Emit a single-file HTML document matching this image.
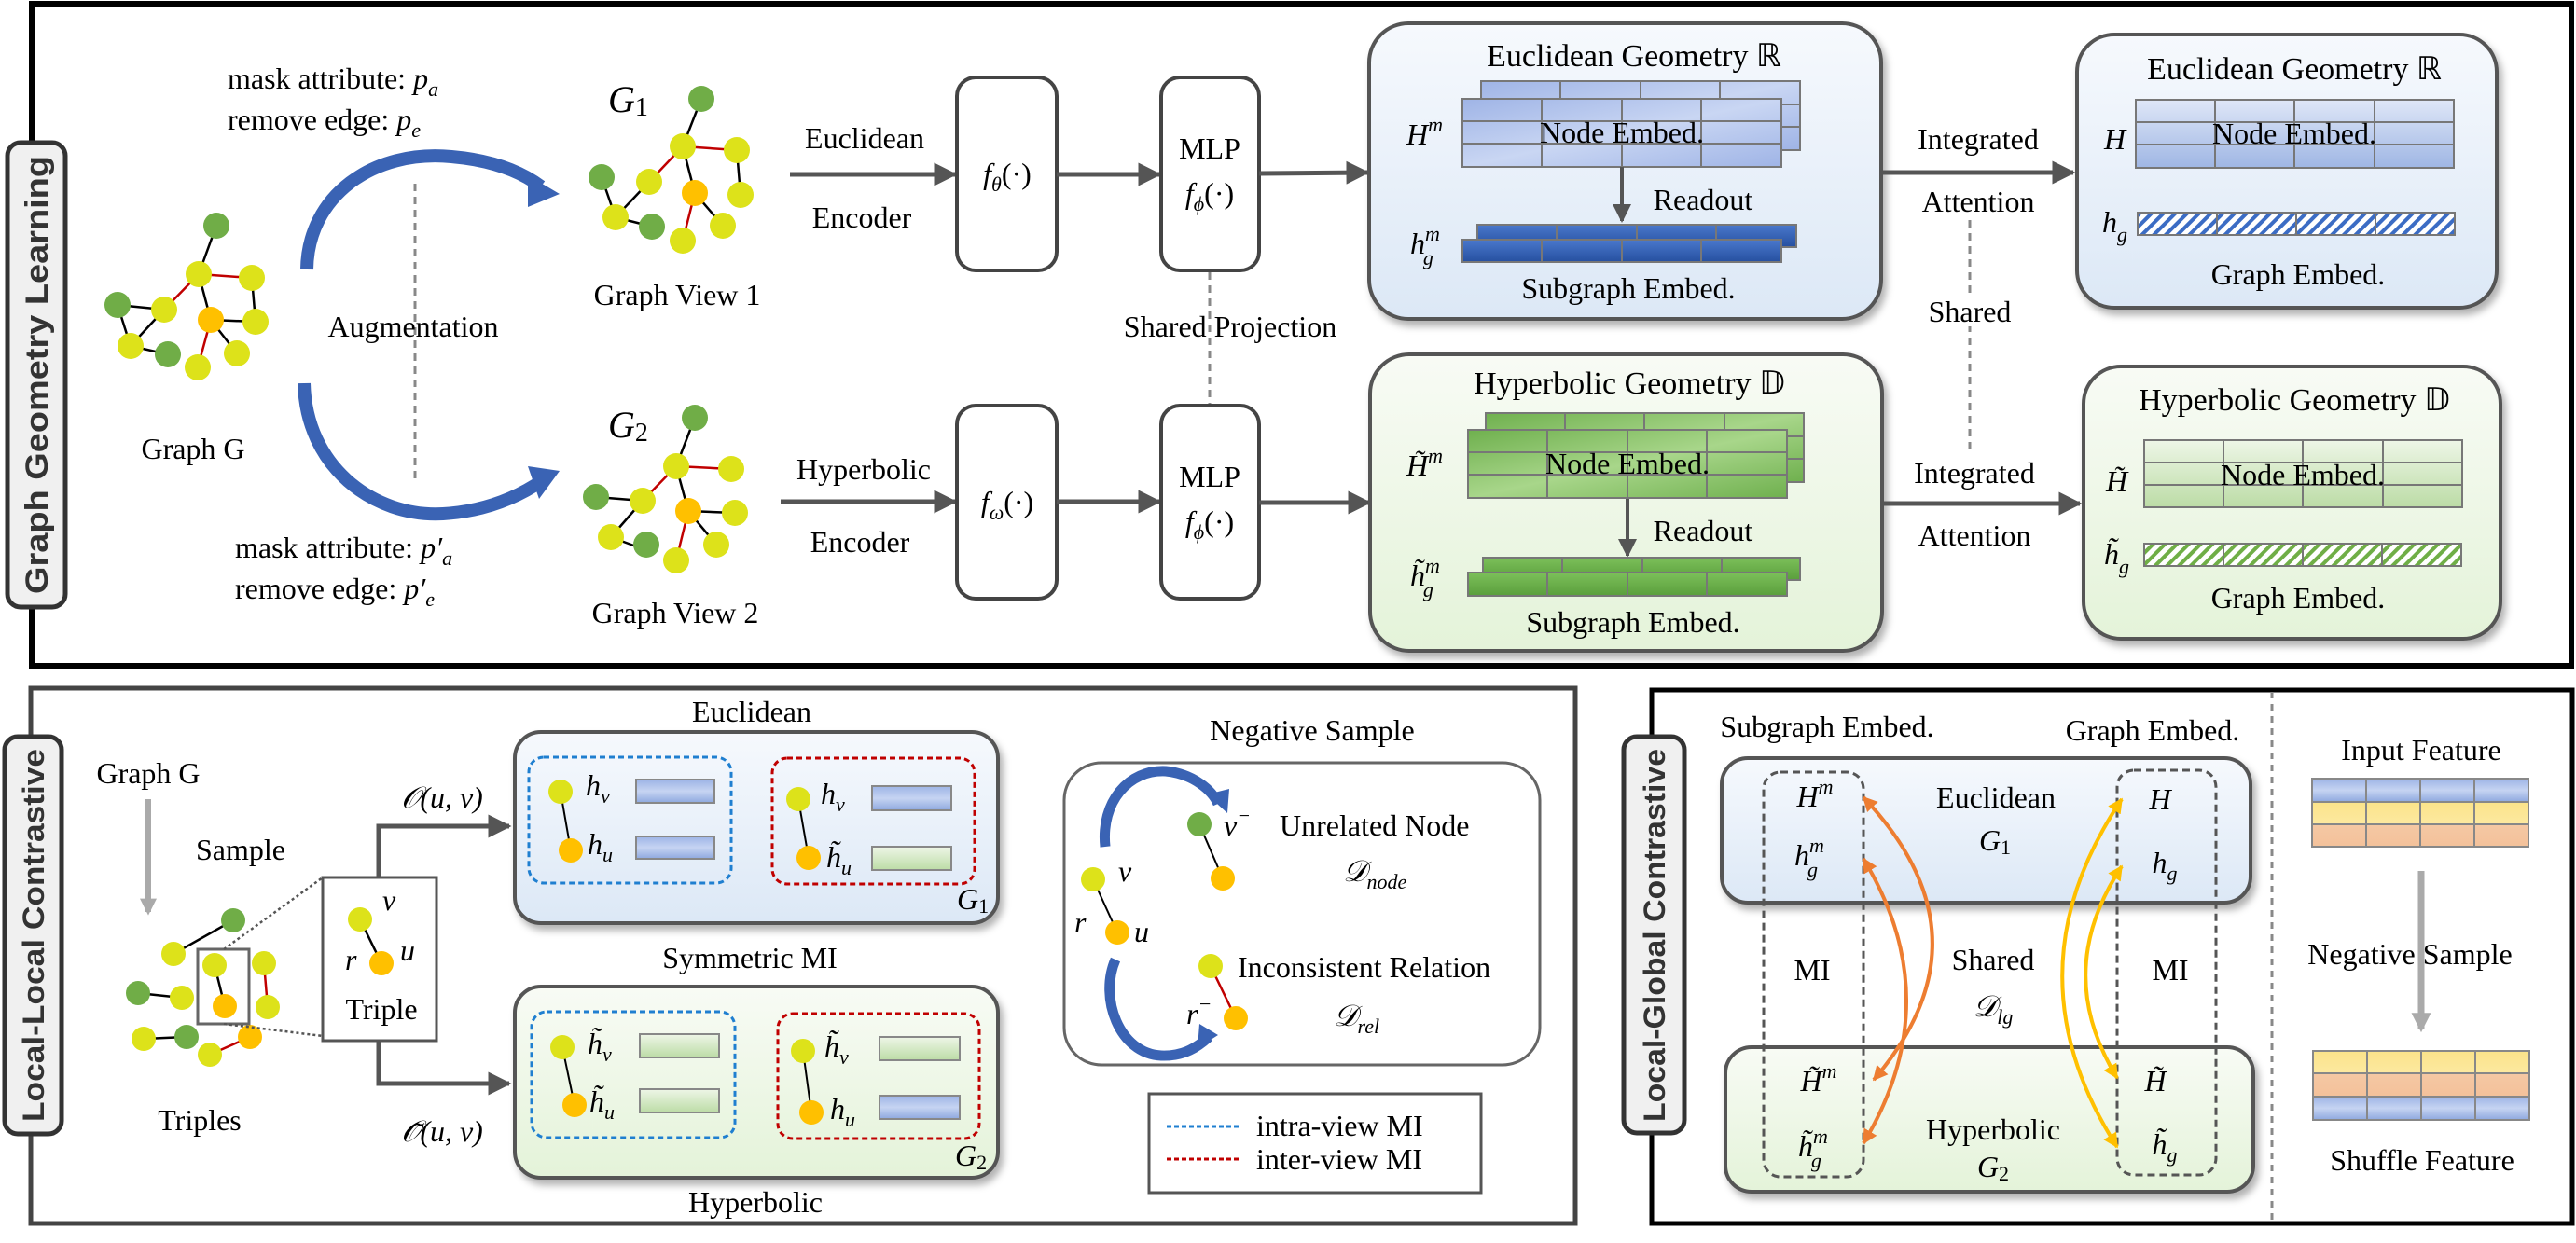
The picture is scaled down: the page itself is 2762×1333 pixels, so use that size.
<!DOCTYPE html>
<html><head><meta charset="utf-8"><style>html,body{margin:0;padding:0;background:#fff}svg{display:block}</style></head><body>
<svg xmlns="http://www.w3.org/2000/svg" width="2762" height="1333" viewBox="0 0 2762 1333" font-family="Liberation Serif, serif" font-size="32" fill="#000">
<defs>
<linearGradient id="gb" x1="0" y1="0" x2="0" y2="1"><stop offset="0" stop-color="#f6f9fd"/><stop offset="1" stop-color="#dce8f6"/></linearGradient>
<linearGradient id="gg" x1="0" y1="0" x2="0" y2="1"><stop offset="0" stop-color="#f8fbf5"/><stop offset="1" stop-color="#e4f3d9"/></linearGradient>
<linearGradient id="cb" x1="0" y1="0" x2="1" y2="1"><stop offset="0" stop-color="#9fb4e6"/><stop offset=".5" stop-color="#c9d6f3"/><stop offset="1" stop-color="#9fb4e6"/></linearGradient>
<linearGradient id="cd" x1="0" y1="0" x2="0" y2="1"><stop offset="0" stop-color="#4a78cc"/><stop offset="1" stop-color="#2650a0"/></linearGradient>
<linearGradient id="cg" x1="0" y1="0" x2="1" y2="1"><stop offset="0" stop-color="#6fb04e"/><stop offset=".5" stop-color="#a8d68a"/><stop offset="1" stop-color="#6fb04e"/></linearGradient>
<linearGradient id="cgd" x1="0" y1="0" x2="0" y2="1"><stop offset="0" stop-color="#7cc05a"/><stop offset="1" stop-color="#5a9e3c"/></linearGradient>
<linearGradient id="sb" x1="0" y1="0" x2="0" y2="1"><stop offset="0" stop-color="#dfe7f7"/><stop offset="1" stop-color="#9fb6e4"/></linearGradient>
<linearGradient id="sg" x1="0" y1="0" x2="0" y2="1"><stop offset="0" stop-color="#eef6e7"/><stop offset="1" stop-color="#bcdca6"/></linearGradient>
<linearGradient id="fb" x1="0" y1="0" x2="0" y2="1"><stop offset="0" stop-color="#9db4e6"/><stop offset=".5" stop-color="#c6d4f2"/><stop offset="1" stop-color="#8ea8df"/></linearGradient>
<linearGradient id="fy" x1="0" y1="0" x2="0" y2="1"><stop offset="0" stop-color="#fbe38a"/><stop offset="1" stop-color="#fde9a0"/></linearGradient>
<linearGradient id="fp" x1="0" y1="0" x2="0" y2="1"><stop offset="0" stop-color="#f5c8a4"/><stop offset="1" stop-color="#f3c19a"/></linearGradient>
<pattern id="hb" width="9" height="9" patternUnits="userSpaceOnUse" patternTransform="rotate(45)"><rect width="9" height="9" fill="#fff"/><rect width="4" height="9" fill="#3b6cc4"/></pattern>
<pattern id="hg" width="9" height="9" patternUnits="userSpaceOnUse" patternTransform="rotate(45)"><rect width="9" height="9" fill="#fff"/><rect width="4" height="9" fill="#6fae46"/></pattern>
<filter id="sh" x="-10%" y="-10%" width="125%" height="125%"><feDropShadow dx="4" dy="6" stdDeviation="4" flood-color="#000" flood-opacity=".3"/></filter>
<marker id="ah" viewBox="0 0 10 10" refX="9" refY="5" markerWidth="5" markerHeight="5" orient="auto"><path d="M0,0L10,5L0,10z" fill="#555"/></marker>
<marker id="ao" viewBox="0 0 10 10" refX="9" refY="5" markerWidth="4" markerHeight="4" orient="auto-start-reverse"><path d="M0,0L10,5L0,10z" fill="#ed7d31"/></marker>
<marker id="ay" viewBox="0 0 10 10" refX="9" refY="5" markerWidth="4" markerHeight="4" orient="auto-start-reverse"><path d="M0,0L10,5L0,10z" fill="#ffc000"/></marker>
<marker id="ag" viewBox="0 0 10 10" refX="8" refY="5" markerWidth="3" markerHeight="3" orient="auto"><path d="M0,0L10,5L0,10z" fill="#aaa"/></marker>
</defs>

<!-- ================= TOP PANEL ================= -->
<rect x="34" y="4" width="2723" height="710" fill="none" stroke="#000" stroke-width="6"/>
<rect x="8" y="153" width="62" height="498" rx="14" fill="#f0f0f0" stroke="#333" stroke-width="5"/>
<text transform="translate(51,402) rotate(-90)" text-anchor="middle" font-family="Liberation Sans, sans-serif" font-weight="bold" font-size="34" fill="#333" textLength="470" lengthAdjust="spacingAndGlyphs">Graph Geometry Learning</text>

<!-- Graph G -->
<g stroke-width="2.5">
<line x1="232" y1="242" x2="213" y2="294" stroke="#000"/><line x1="213" y1="294" x2="270" y2="298" stroke="#c00000"/>
<line x1="213" y1="294" x2="176" y2="332" stroke="#c00000"/><line x1="213" y1="294" x2="226" y2="343" stroke="#000"/>
<line x1="270" y1="298" x2="274" y2="345" stroke="#000"/><line x1="126" y1="327" x2="176" y2="332" stroke="#000"/>
<line x1="126" y1="327" x2="140" y2="371" stroke="#000"/><line x1="176" y1="332" x2="140" y2="371" stroke="#000"/>
<line x1="226" y1="343" x2="274" y2="345" stroke="#000"/><line x1="226" y1="343" x2="212" y2="394" stroke="#c00000"/>
<line x1="226" y1="343" x2="254" y2="379" stroke="#000"/><line x1="140" y1="371" x2="180" y2="380" stroke="#000"/>
</g>
<g>
<circle cx="232" cy="242" r="14" fill="#70ad47"/><circle cx="213" cy="294" r="14" fill="#dde21a"/><circle cx="270" cy="298" r="14" fill="#dde21a"/>
<circle cx="126" cy="327" r="14" fill="#70ad47"/><circle cx="176" cy="332" r="14" fill="#dde21a"/><circle cx="226" cy="343" r="14" fill="#ffc000"/>
<circle cx="274" cy="345" r="14" fill="#dde21a"/><circle cx="140" cy="371" r="14" fill="#dde21a"/><circle cx="180" cy="380" r="14" fill="#70ad47"/>
<circle cx="254" cy="379" r="14" fill="#dde21a"/><circle cx="212" cy="394" r="14" fill="#dde21a"/>
</g>
<text x="207" y="492" text-anchor="middle">Graph G</text>

<text x="244" y="95">mask attribute: <tspan font-style="italic">p</tspan><tspan font-style="italic" font-size="22" dy="8">a</tspan></text>
<text x="244" y="139">remove edge: <tspan font-style="italic">p</tspan><tspan font-style="italic" font-size="22" dy="8">e</tspan></text>
<text x="252" y="598">mask attribute: <tspan font-style="italic">p′</tspan><tspan font-style="italic" font-size="22" dy="8">a</tspan></text>
<text x="252" y="642">remove edge: <tspan font-style="italic">p′</tspan><tspan font-style="italic" font-size="22" dy="8">e</tspan></text>

<!-- augmentation arrows -->
<path d="M329,289 C330,210 400,160 484,168 C530,172 560,185 580,200" fill="none" stroke="#3a63b4" stroke-width="14"/>
<path d="M566,188 L600,208 L566,222 Z" fill="#3a63b4"/>
<path d="M326,411 C328,500 400,555 475,551 C525,548 560,530 582,515" fill="none" stroke="#3a63b4" stroke-width="14"/>
<path d="M566,500 L600,505 L578,535 Z" fill="#3a63b4"/>
<line x1="445" y1="197" x2="445" y2="514" stroke="#888" stroke-width="3" stroke-dasharray="8,6"/>
<text x="443" y="361" text-anchor="middle">Augmentation</text>

<!-- G1 -->
<text x="652" y="120" font-style="italic" font-size="40">G<tspan font-size="28" font-style="normal" dy="4">1</tspan></text>
<g stroke-width="2.5">
<line x1="752" y1="106" x2="732" y2="157" stroke="#000"/><line x1="732" y1="157" x2="790" y2="161" stroke="#c00000"/>
<line x1="732" y1="157" x2="696" y2="195" stroke="#c00000"/><line x1="732" y1="157" x2="745" y2="207" stroke="#000"/>
<line x1="790" y1="161" x2="794" y2="209" stroke="#000"/><line x1="645" y1="190" x2="660" y2="233" stroke="#000"/>
<line x1="696" y1="195" x2="660" y2="233" stroke="#000"/><line x1="745" y1="207" x2="732" y2="258" stroke="#c00000"/>
<line x1="745" y1="207" x2="775" y2="242" stroke="#000"/><line x1="660" y1="233" x2="699" y2="243" stroke="#000"/>
</g>
<circle cx="752" cy="106" r="14" fill="#70ad47"/><circle cx="732" cy="157" r="14" fill="#dde21a"/><circle cx="790" cy="161" r="14" fill="#dde21a"/>
<circle cx="645" cy="190" r="14" fill="#70ad47"/><circle cx="696" cy="195" r="14" fill="#dde21a"/><circle cx="745" cy="207" r="14" fill="#ffc000"/>
<circle cx="794" cy="209" r="14" fill="#dde21a"/><circle cx="660" cy="233" r="14" fill="#dde21a"/><circle cx="699" cy="243" r="14" fill="#70ad47"/>
<circle cx="775" cy="242" r="14" fill="#dde21a"/><circle cx="732" cy="258" r="14" fill="#dde21a"/>
<text x="726" y="327" text-anchor="middle">Graph View 1</text>

<!-- G2 -->
<text x="652" y="469" font-style="italic" font-size="40">G<tspan font-size="28" font-style="normal" dy="4">2</tspan></text>
<g stroke-width="2.5">
<line x1="745" y1="448" x2="725" y2="500" stroke="#000"/><line x1="725" y1="500" x2="784" y2="503" stroke="#c00000"/>
<line x1="725" y1="500" x2="689" y2="537" stroke="#c00000"/><line x1="725" y1="500" x2="738" y2="548" stroke="#000"/>
<line x1="639" y1="533" x2="689" y2="537" stroke="#000"/><line x1="689" y1="537" x2="655" y2="576" stroke="#000"/>
<line x1="738" y1="548" x2="788" y2="550" stroke="#000"/><line x1="738" y1="548" x2="725" y2="601" stroke="#c00000"/>
<line x1="738" y1="548" x2="768" y2="584" stroke="#000"/><line x1="655" y1="576" x2="693" y2="590" stroke="#000"/>
</g>
<circle cx="745" cy="448" r="14" fill="#70ad47"/><circle cx="725" cy="500" r="14" fill="#dde21a"/><circle cx="784" cy="503" r="14" fill="#dde21a"/>
<circle cx="639" cy="533" r="14" fill="#70ad47"/><circle cx="689" cy="537" r="14" fill="#dde21a"/><circle cx="738" cy="548" r="14" fill="#ffc000"/>
<circle cx="788" cy="550" r="14" fill="#dde21a"/><circle cx="655" cy="576" r="14" fill="#dde21a"/><circle cx="693" cy="584" r="14" fill="#70ad47"/>
<circle cx="768" cy="584" r="14" fill="#dde21a"/><circle cx="725" cy="601" r="14" fill="#dde21a"/>
<text x="724" y="668" text-anchor="middle">Graph View 2</text>

<!-- encoders -->
<text x="927" y="159" text-anchor="middle">Euclidean</text>
<text x="924" y="244" text-anchor="middle">Encoder</text>
<line x1="847" y1="187" x2="1024" y2="187" stroke="#555" stroke-width="5" marker-end="url(#ah)"/>
<rect x="1026" y="83" width="107" height="207" rx="20" fill="#fff" stroke="#444" stroke-width="4"/>
<text x="1080" y="197" text-anchor="middle"><tspan font-style="italic">f</tspan><tspan font-style="italic" font-size="22" dy="8">θ</tspan><tspan dy="-8">(·)</tspan></text>
<line x1="1133" y1="187" x2="1243" y2="187" stroke="#555" stroke-width="5" marker-end="url(#ah)"/>
<rect x="1245" y="83" width="105" height="207" rx="20" fill="#fff" stroke="#444" stroke-width="4"/>
<text x="1297" y="170" text-anchor="middle">MLP</text>
<text x="1297" y="218" text-anchor="middle"><tspan font-style="italic">f</tspan><tspan font-style="italic" font-size="22" dy="8">ϕ</tspan><tspan dy="-8">(·)</tspan></text>
<line x1="1350" y1="186" x2="1466" y2="185" stroke="#555" stroke-width="5" marker-end="url(#ah)"/>

<line x1="1297" y1="292" x2="1297" y2="433" stroke="#888" stroke-width="3" stroke-dasharray="8,6"/>
<text x="1319" y="361" text-anchor="middle">Shared Projection</text>

<text x="926" y="514" text-anchor="middle">Hyperbolic</text>
<text x="922" y="592" text-anchor="middle">Encoder</text>
<line x1="837" y1="538" x2="1024" y2="538" stroke="#555" stroke-width="5" marker-end="url(#ah)"/>
<rect x="1026" y="435" width="107" height="207" rx="20" fill="#fff" stroke="#444" stroke-width="4"/>
<text x="1080" y="549" text-anchor="middle"><tspan font-style="italic">f</tspan><tspan font-style="italic" font-size="22" dy="8">ω</tspan><tspan dy="-8">(·)</tspan></text>
<line x1="1133" y1="538" x2="1243" y2="538" stroke="#555" stroke-width="5" marker-end="url(#ah)"/>
<rect x="1245" y="435" width="105" height="207" rx="20" fill="#fff" stroke="#444" stroke-width="4"/>
<text x="1297" y="522" text-anchor="middle">MLP</text>
<text x="1297" y="570" text-anchor="middle"><tspan font-style="italic">f</tspan><tspan font-style="italic" font-size="22" dy="8">ϕ</tspan><tspan dy="-8">(·)</tspan></text>
<line x1="1350" y1="539" x2="1468" y2="539" stroke="#555" stroke-width="5" marker-end="url(#ah)"/>

<!-- Euclidean geometry box -->
<rect x="1468" y="25" width="549" height="317" rx="42" fill="url(#gb)" stroke="#555" stroke-width="4" filter="url(#sh)"/>
<text x="1752" y="71" text-anchor="middle" font-size="34">Euclidean Geometry ℝ</text>
<g stroke="#777" stroke-width="2">
<rect x="1588" y="87" width="342" height="74" fill="url(#cb)"/>
<line x1="1673" y1="87" x2="1673" y2="106"/><line x1="1759" y1="87" x2="1759" y2="106"/><line x1="1844" y1="87" x2="1844" y2="106"/>
<line x1="1910" y1="112" x2="1930" y2="112"/><line x1="1910" y1="136" x2="1930" y2="136"/>
<rect x="1568" y="106" width="342" height="73" fill="url(#cb)"/>
<line x1="1568" y1="130" x2="1910" y2="130"/><line x1="1568" y1="154" x2="1910" y2="154"/>
<line x1="1653" y1="106" x2="1653" y2="179"/><line x1="1739" y1="106" x2="1739" y2="179"/><line x1="1824" y1="106" x2="1824" y2="179"/>
</g>
<text x="1739" y="153" text-anchor="middle">Node Embed.</text>
<text x="1508" y="155" font-style="italic">H<tspan font-size="22" dy="-14">m</tspan></text>
<line x1="1739" y1="179" x2="1739" y2="237" stroke="#555" stroke-width="4" marker-end="url(#ah)"/>
<text x="1826" y="225" text-anchor="middle">Readout</text>
<g stroke="#777" stroke-width="2">
<rect x="1584" y="241" width="342" height="24" fill="url(#cd)"/>
<rect x="1568" y="257" width="342" height="24" fill="url(#cd)"/>
<line x1="1653" y1="257" x2="1653" y2="281"/><line x1="1739" y1="257" x2="1739" y2="281"/><line x1="1824" y1="257" x2="1824" y2="281"/>
<line x1="1669" y1="241" x2="1669" y2="257"/><line x1="1755" y1="241" x2="1755" y2="257"/><line x1="1840" y1="241" x2="1840" y2="257"/>
</g>
<text x="1512" y="272" font-style="italic">h<tspan font-size="22" dy="-14">m</tspan><tspan font-size="22" dx="-18" dy="26">g</tspan></text>
<text x="1746" y="320" text-anchor="middle">Subgraph Embed.</text>

<line x1="2017" y1="185" x2="2223" y2="185" stroke="#555" stroke-width="5" marker-end="url(#ah)"/>
<text x="2121" y="160" text-anchor="middle">Integrated</text>
<text x="2121" y="227" text-anchor="middle">Attention</text>
<line x1="2112" y1="236" x2="2112" y2="487" stroke="#888" stroke-width="3" stroke-dasharray="8,6"/>
<rect x="2080" y="314" width="64" height="36" fill="#fff"/>
<text x="2112" y="345" text-anchor="middle">Shared</text>

<!-- right Euclidean -->
<rect x="2227" y="37" width="450" height="293" rx="40" fill="url(#gb)" stroke="#555" stroke-width="4" filter="url(#sh)"/>
<text x="2460" y="85" text-anchor="middle" font-size="34">Euclidean Geometry ℝ</text>
<g stroke="#777" stroke-width="2">
<rect x="2290" y="107" width="341" height="73" fill="url(#sb)"/>
<line x1="2290" y1="131" x2="2631" y2="131"/><line x1="2290" y1="155" x2="2631" y2="155"/>
<line x1="2375" y1="107" x2="2375" y2="180"/><line x1="2460" y1="107" x2="2460" y2="180"/><line x1="2546" y1="107" x2="2546" y2="180"/>
<rect x="2292" y="228" width="340" height="24" fill="url(#hb)"/>
<line x1="2377" y1="228" x2="2377" y2="252"/><line x1="2462" y1="228" x2="2462" y2="252"/><line x1="2547" y1="228" x2="2547" y2="252"/>
</g>
<text x="2460" y="154" text-anchor="middle">Node Embed.</text>
<text x="2256" y="160" font-style="italic">H</text>
<text x="2254" y="249" font-style="italic">h<tspan font-size="22" dy="10">g</tspan></text>
<text x="2464" y="305" text-anchor="middle">Graph Embed.</text>

<!-- Hyperbolic geometry box -->
<rect x="1469" y="380" width="549" height="318" rx="42" fill="url(#gg)" stroke="#555" stroke-width="4" filter="url(#sh)"/>
<text x="1747" y="422" text-anchor="middle" font-size="34">Hyperbolic Geometry 𝔻</text>
<g stroke="#777" stroke-width="2">
<rect x="1593" y="443" width="341" height="74" fill="url(#cg)"/>
<line x1="1678" y1="443" x2="1678" y2="461"/><line x1="1763" y1="443" x2="1763" y2="461"/><line x1="1849" y1="443" x2="1849" y2="461"/>
<line x1="1916" y1="468" x2="1934" y2="468"/><line x1="1916" y1="492" x2="1934" y2="492"/>
<rect x="1574" y="461" width="342" height="73" fill="url(#cg)"/>
<line x1="1574" y1="485" x2="1916" y2="485"/><line x1="1574" y1="509" x2="1916" y2="509"/>
<line x1="1659" y1="461" x2="1659" y2="534"/><line x1="1745" y1="461" x2="1745" y2="534"/><line x1="1830" y1="461" x2="1830" y2="534"/>
</g>
<text x="1745" y="508" text-anchor="middle">Node Embed.</text>
<text x="1508" y="510" font-style="italic">H̃<tspan font-size="22" dy="-14">m</tspan></text>
<line x1="1745" y1="535" x2="1745" y2="596" stroke="#555" stroke-width="4" marker-end="url(#ah)"/>
<text x="1826" y="580" text-anchor="middle">Readout</text>
<g stroke="#777" stroke-width="2">
<rect x="1590" y="598" width="340" height="24" fill="url(#cgd)"/>
<rect x="1574" y="614" width="342" height="25" fill="url(#cgd)"/>
<line x1="1659" y1="614" x2="1659" y2="639"/><line x1="1745" y1="614" x2="1745" y2="639"/><line x1="1830" y1="614" x2="1830" y2="639"/>
<line x1="1675" y1="598" x2="1675" y2="614"/><line x1="1761" y1="598" x2="1761" y2="614"/><line x1="1846" y1="598" x2="1846" y2="614"/>
</g>
<text x="1512" y="628" font-style="italic">h̃<tspan font-size="22" dy="-14">m</tspan><tspan font-size="22" dx="-18" dy="26">g</tspan></text>
<text x="1751" y="678" text-anchor="middle">Subgraph Embed.</text>

<line x1="2018" y1="540" x2="2230" y2="540" stroke="#555" stroke-width="5" marker-end="url(#ah)"/>
<text x="2117" y="518" text-anchor="middle">Integrated</text>
<text x="2117" y="585" text-anchor="middle">Attention</text>

<!-- right Hyperbolic -->
<rect x="2234" y="393" width="447" height="292" rx="40" fill="url(#gg)" stroke="#555" stroke-width="4" filter="url(#sh)"/>
<text x="2460" y="440" text-anchor="middle" font-size="34">Hyperbolic Geometry 𝔻</text>
<g stroke="#777" stroke-width="2">
<rect x="2299" y="472" width="341" height="72" fill="url(#sg)"/>
<line x1="2299" y1="496" x2="2640" y2="496"/><line x1="2299" y1="520" x2="2640" y2="520"/>
<line x1="2384" y1="472" x2="2384" y2="544"/><line x1="2469" y1="472" x2="2469" y2="544"/><line x1="2555" y1="472" x2="2555" y2="544"/>
<rect x="2299" y="583" width="340" height="24" fill="url(#hg)"/>
<line x1="2384" y1="583" x2="2384" y2="607"/><line x1="2469" y1="583" x2="2469" y2="607"/><line x1="2554" y1="583" x2="2554" y2="607"/>
</g>
<text x="2469" y="520" text-anchor="middle">Node Embed.</text>
<text x="2258" y="527" font-style="italic">H̃</text>
<text x="2256" y="605" font-style="italic">h̃<tspan font-size="22" dy="10">g</tspan></text>
<text x="2464" y="652" text-anchor="middle">Graph Embed.</text>

<!-- ================= BOTTOM LEFT ================= -->
<rect x="33" y="738" width="1656" height="574" fill="none" stroke="#444" stroke-width="5"/>
<rect x="5" y="790" width="61" height="426" rx="14" fill="#f0f0f0" stroke="#333" stroke-width="5"/>
<text transform="translate(47,1003) rotate(-90)" text-anchor="middle" font-family="Liberation Sans, sans-serif" font-weight="bold" font-size="32" fill="#333" textLength="400" lengthAdjust="spacingAndGlyphs">Local-Local Contrastive</text>

<text x="159" y="840" text-anchor="middle">Graph G</text>
<line x1="159" y1="857" x2="159" y2="978" stroke="#aaa" stroke-width="6" marker-end="url(#ag)"/>
<text x="258" y="922" text-anchor="middle">Sample</text>

<g stroke-width="2.5">
<line x1="250" y1="987" x2="186" y2="1023" stroke="#000"/><line x1="230" y1="1035" x2="241" y2="1079" stroke="#000"/>
<line x1="283" y1="1033" x2="287" y2="1080" stroke="#c00000"/><line x1="148" y1="1065" x2="195" y2="1070" stroke="#000"/>
<line x1="154" y1="1114" x2="200" y2="1112" stroke="#000"/><line x1="268" y1="1112" x2="225" y2="1131" stroke="#c00000"/>
</g>
<circle cx="250" cy="987" r="13" fill="#70ad47"/><circle cx="186" cy="1023" r="13" fill="#dde21a"/><circle cx="230" cy="1035" r="13" fill="#dde21a"/>
<circle cx="283" cy="1033" r="13" fill="#dde21a"/><circle cx="148" cy="1065" r="13" fill="#70ad47"/><circle cx="195" cy="1070" r="13" fill="#dde21a"/>
<circle cx="241" cy="1079" r="13" fill="#ffc000"/><circle cx="287" cy="1080" r="13" fill="#dde21a"/><circle cx="154" cy="1114" r="13" fill="#dde21a"/>
<circle cx="200" cy="1112" r="13" fill="#70ad47"/><circle cx="268" cy="1112" r="13" fill="#ffc000"/><circle cx="225" cy="1131" r="13" fill="#dde21a"/>
<rect x="212" y="1018" width="55" height="80" fill="none" stroke="#666" stroke-width="3"/>
<line x1="240" y1="1018" x2="346" y2="941" stroke="#555" stroke-width="2.5" stroke-dasharray="3,3"/>
<line x1="240" y1="1098" x2="346" y2="1111" stroke="#555" stroke-width="2.5" stroke-dasharray="3,3"/>
<text x="214" y="1212" text-anchor="middle">Triples</text>

<rect x="346" y="941" width="122" height="175" fill="#fff" stroke="#555" stroke-width="3"/>
<line x1="386" y1="986" x2="409" y2="1033" stroke="#000" stroke-width="2.5"/>
<circle cx="386" cy="986" r="13" fill="#dde21a"/><circle cx="409" cy="1033" r="13" fill="#ffc000"/>
<text x="410" y="976" font-style="italic">v</text><text x="370" y="1040" font-style="italic">r</text><text x="429" y="1030" font-style="italic">u</text>
<text x="409" y="1093" text-anchor="middle">Triple</text>

<path d="M406,941 L406,886 L546,886" fill="none" stroke="#555" stroke-width="5" marker-end="url(#ah)"/>
<path d="M406,1116 L406,1162 L546,1162" fill="none" stroke="#555" stroke-width="5" marker-end="url(#ah)"/>
<text x="474" y="866" text-anchor="middle" font-style="italic">𝒪(u, v)</text>
<text x="474" y="1224" text-anchor="middle" font-style="italic">𝒪̃(u, v)</text>

<!-- euclid box -->
<text x="806" y="774" text-anchor="middle">Euclidean</text>
<rect x="552" y="785" width="518" height="205" rx="28" fill="url(#gb)" stroke="#555" stroke-width="4" filter="url(#sh)"/>
<rect x="567" y="812" width="217" height="135" rx="16" fill="none" stroke="#1f7fd0" stroke-width="3" stroke-dasharray="6,4"/>
<rect x="828" y="813" width="217" height="135" rx="16" fill="none" stroke="#c00000" stroke-width="3" stroke-dasharray="6,4"/>
<line x1="601" y1="849" x2="612" y2="912" stroke="#000" stroke-width="2"/>
<circle cx="601" cy="849" r="13" fill="#dde21a"/><circle cx="612" cy="912" r="13" fill="#ffc000"/>
<text x="628" y="853" font-style="italic">h<tspan font-size="22" dy="8">v</tspan></text>
<text x="630" y="916" font-style="italic">h<tspan font-size="22" dy="8">u</tspan></text>
<rect x="682" y="836" width="84" height="25" fill="url(#fb)" stroke="#888" stroke-width="2"/>
<rect x="682" y="897" width="84" height="24" fill="url(#fb)" stroke="#888" stroke-width="2"/>
<line x1="856" y1="857" x2="867" y2="920" stroke="#000" stroke-width="2"/>
<circle cx="856" cy="857" r="13" fill="#dde21a"/><circle cx="867" cy="920" r="13" fill="#ffc000"/>
<text x="880" y="862" font-style="italic">h<tspan font-size="22" dy="8">v</tspan></text>
<text x="886" y="930" font-style="italic">h̃<tspan font-size="22" dy="8">u</tspan></text>
<rect x="935" y="843" width="85" height="26" fill="url(#fb)" stroke="#888" stroke-width="2"/>
<rect x="935" y="908" width="85" height="25" fill="url(#sg)" stroke="#888" stroke-width="2"/>
<text x="1026" y="975" font-style="italic">G<tspan font-size="22" font-style="normal" dy="4">1</tspan></text>

<text x="804" y="1038" text-anchor="middle">Symmetric MI</text>

<!-- hyperbolic box -->
<rect x="552" y="1058" width="518" height="205" rx="28" fill="url(#gg)" stroke="#555" stroke-width="4" filter="url(#sh)"/>
<rect x="570" y="1085" width="218" height="135" rx="16" fill="none" stroke="#1f7fd0" stroke-width="3" stroke-dasharray="6,4"/>
<rect x="834" y="1087" width="216" height="134" rx="16" fill="none" stroke="#c00000" stroke-width="3" stroke-dasharray="6,4"/>
<line x1="603" y1="1123" x2="616" y2="1185" stroke="#000" stroke-width="2"/>
<circle cx="603" cy="1123" r="13" fill="#dde21a"/><circle cx="616" cy="1185" r="13" fill="#ffc000"/>
<text x="630" y="1130" font-style="italic">h̃<tspan font-size="22" dy="8">v</tspan></text>
<text x="632" y="1192" font-style="italic">h̃<tspan font-size="22" dy="8">u</tspan></text>
<rect x="686" y="1109" width="85" height="25" fill="url(#sg)" stroke="#888" stroke-width="2"/>
<rect x="686" y="1168" width="85" height="25" fill="url(#sg)" stroke="#888" stroke-width="2"/>
<line x1="861" y1="1127" x2="870" y2="1193" stroke="#000" stroke-width="2"/>
<circle cx="861" cy="1127" r="13" fill="#dde21a"/><circle cx="870" cy="1193" r="13" fill="#ffc000"/>
<text x="884" y="1133" font-style="italic">h̃<tspan font-size="22" dy="8">v</tspan></text>
<text x="890" y="1200" font-style="italic">h<tspan font-size="22" dy="8">u</tspan></text>
<rect x="943" y="1112" width="86" height="25" fill="url(#sg)" stroke="#888" stroke-width="2"/>
<rect x="943" y="1175" width="86" height="25" fill="url(#fb)" stroke="#888" stroke-width="2"/>
<text x="1024" y="1250" font-style="italic">G<tspan font-size="22" font-style="normal" dy="4">2</tspan></text>
<text x="810" y="1300" text-anchor="middle">Hyperbolic</text>

<!-- Negative sample -->
<text x="1407" y="794" text-anchor="middle">Negative Sample</text>
<rect x="1141" y="818" width="510" height="324" rx="40" fill="#fff" stroke="#666" stroke-width="3"/>
<path d="M1185,908 C1180,860 1210,825 1250,827 C1280,830 1300,848 1306,862" fill="none" stroke="#3a63b4" stroke-width="11"/>
<path d="M1294,852 L1316,872 L1318,846 Z" fill="#3a63b4"/>
<path d="M1196,1029 C1178,1070 1200,1130 1245,1132 C1270,1133 1285,1122 1296,1112" fill="none" stroke="#3a63b4" stroke-width="11"/>
<path d="M1286,1098 L1306,1110 L1284,1124 Z" fill="#3a63b4"/>
<line x1="1286" y1="884" x2="1311" y2="942" stroke="#000" stroke-width="2"/>
<circle cx="1286" cy="884" r="13" fill="#70ad47"/><circle cx="1311" cy="942" r="13" fill="#ffc000"/>
<text x="1312" y="896" font-style="italic">v<tspan font-size="22" dy="-14">−</tspan></text>
<text x="1372" y="896">Unrelated Node</text>
<text x="1440" y="945" font-style="italic">𝒟<tspan font-size="22" dy="8">node</tspan></text>
<line x1="1172" y1="943" x2="1198" y2="1000" stroke="#000" stroke-width="2"/>
<circle cx="1172" cy="943" r="13" fill="#dde21a"/><circle cx="1198" cy="1000" r="13" fill="#ffc000"/>
<text x="1199" y="945" font-style="italic">v</text>
<text x="1152" y="1000" font-style="italic">r</text>
<text x="1216" y="1010" font-style="italic">u</text>
<line x1="1298" y1="1036" x2="1325" y2="1092" stroke="#c00000" stroke-width="2.5"/>
<circle cx="1298" cy="1036" r="13" fill="#dde21a"/><circle cx="1325" cy="1092" r="13" fill="#ffc000"/>
<text x="1327" y="1048">Inconsistent Relation</text>
<text x="1272" y="1098" font-style="italic">r<tspan font-size="22" dy="-14">−</tspan></text>
<text x="1430" y="1100" font-style="italic">𝒟<tspan font-size="22" dy="8">rel</tspan></text>

<rect x="1232" y="1173" width="356" height="106" fill="#fff" stroke="#555" stroke-width="3"/>
<line x1="1251" y1="1208" x2="1331" y2="1208" stroke="#1f7fd0" stroke-width="3" stroke-dasharray="5,3"/>
<line x1="1251" y1="1243" x2="1331" y2="1243" stroke="#c00000" stroke-width="3" stroke-dasharray="5,3"/>
<text x="1347" y="1218">intra-view MI</text>
<text x="1347" y="1254">inter-view MI</text>

<!-- ================= BOTTOM RIGHT ================= -->
<rect x="1771" y="740" width="987" height="572" fill="none" stroke="#000" stroke-width="5"/>
<rect x="1741" y="790" width="65" height="425" rx="14" fill="#f0f0f0" stroke="#333" stroke-width="5"/>
<text transform="translate(1785,1003) rotate(-90)" text-anchor="middle" font-family="Liberation Sans, sans-serif" font-weight="bold" font-size="32" fill="#333" textLength="400" lengthAdjust="spacingAndGlyphs">Local-Global Contrastive</text>

<text x="1959" y="790" text-anchor="middle">Subgraph Embed.</text>
<text x="2308" y="794" text-anchor="middle">Graph Embed.</text>
<rect x="1846" y="813" width="567" height="155" rx="28" fill="url(#gb)" stroke="#555" stroke-width="4" filter="url(#sh)"/>
<rect x="1850" y="1123" width="566" height="155" rx="28" fill="url(#gg)" stroke="#555" stroke-width="4" filter="url(#sh)"/>
<rect x="1891" y="828" width="107" height="434" rx="18" fill="none" stroke="#555" stroke-width="3" stroke-dasharray="8,5"/>
<rect x="2270" y="826" width="106" height="434" rx="18" fill="none" stroke="#555" stroke-width="3" stroke-dasharray="8,5"/>

<text x="1946" y="865" text-anchor="middle" font-style="italic">H<tspan font-size="22" dy="-14">m</tspan></text>
<text x="1940" y="928" text-anchor="middle" font-style="italic">h<tspan font-size="22" dy="-14">m</tspan><tspan font-size="22" dx="-18" dy="26">g</tspan></text>
<text x="2140" y="866" text-anchor="middle">Euclidean</text>
<text x="2139" y="912" text-anchor="middle" font-style="italic">G<tspan font-size="22" font-style="normal" dy="4">1</tspan></text>
<text x="1943" y="1051" text-anchor="middle">MI</text>
<text x="2137" y="1040" text-anchor="middle">Shared</text>
<text x="2137" y="1090" text-anchor="middle" font-style="italic">𝒟<tspan font-size="22" dy="8">lg</tspan></text>
<text x="2327" y="1051" text-anchor="middle">MI</text>
<text x="2316" y="868" text-anchor="middle" font-style="italic">H</text>
<text x="2321" y="936" text-anchor="middle" font-style="italic">h<tspan font-size="22" dy="8">g</tspan></text>
<text x="1950" y="1170" text-anchor="middle" font-style="italic">H̃<tspan font-size="22" dy="-14">m</tspan></text>
<text x="1944" y="1240" text-anchor="middle" font-style="italic">h̃<tspan font-size="22" dy="-14">m</tspan><tspan font-size="22" dx="-18" dy="26">g</tspan></text>
<text x="2137" y="1222" text-anchor="middle">Hyperbolic</text>
<text x="2137" y="1262" text-anchor="middle" font-style="italic">G<tspan font-size="22" font-style="normal" dy="4">2</tspan></text>
<text x="2311" y="1170" text-anchor="middle" font-style="italic">H̃</text>
<text x="2321" y="1238" text-anchor="middle" font-style="italic">h̃<tspan font-size="22" dy="8">g</tspan></text>

<path d="M1998,855 Q2140,1005 2009,1158" fill="none" stroke="#ed7d31" stroke-width="4" marker-start="url(#ao)" marker-end="url(#ao)"/>
<path d="M1998,921 Q2090,1073 1998,1226" fill="none" stroke="#ed7d31" stroke-width="4" marker-start="url(#ao)" marker-end="url(#ao)"/>
<path d="M2275,857 Q2150,1043 2270,1230" fill="none" stroke="#ffc000" stroke-width="4" marker-start="url(#ay)" marker-end="url(#ay)"/>
<path d="M2275,929 Q2200,1042 2270,1156" fill="none" stroke="#ffc000" stroke-width="4" marker-start="url(#ay)" marker-end="url(#ay)"/>

<line x1="2436" y1="742" x2="2436" y2="1310" stroke="#888" stroke-width="3" stroke-dasharray="7,6"/>
<text x="2596" y="815" text-anchor="middle">Input Feature</text>
<g stroke="#888" stroke-width="2">
<rect x="2479" y="835" width="232" height="25" fill="url(#fb)"/>
<rect x="2479" y="860" width="232" height="24" fill="url(#fy)"/>
<rect x="2479" y="884" width="232" height="24" fill="url(#fp)"/>
<line x1="2537" y1="835" x2="2537" y2="908"/><line x1="2595" y1="835" x2="2595" y2="908"/><line x1="2653" y1="835" x2="2653" y2="908"/>
</g>
<line x1="2596" y1="934" x2="2596" y2="1103" stroke="#aaa" stroke-width="7" marker-end="url(#ag)"/>
<text x="2584" y="1034" text-anchor="middle">Negative Sample</text>
<g stroke="#888" stroke-width="2">
<rect x="2480" y="1127" width="232" height="24" fill="url(#fy)"/>
<rect x="2480" y="1151" width="232" height="25" fill="url(#fp)"/>
<rect x="2480" y="1176" width="232" height="25" fill="url(#fb)"/>
<line x1="2538" y1="1127" x2="2538" y2="1201"/><line x1="2596" y1="1127" x2="2596" y2="1201"/><line x1="2654" y1="1127" x2="2654" y2="1201"/>
</g>
<text x="2597" y="1255" text-anchor="middle">Shuffle Feature</text>
</svg>
</body></html>
